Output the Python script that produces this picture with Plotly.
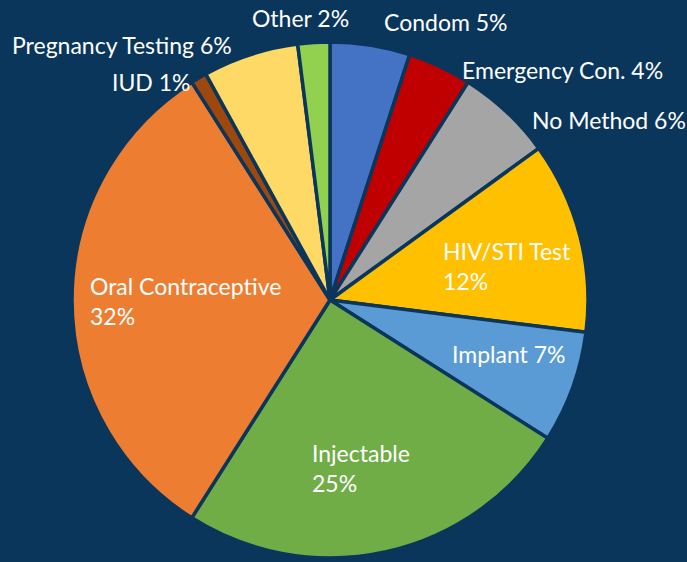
import plotly.graph_objects as go

labels = ["Condom", "Emergency Con.", "No Method", "HIV/STI Test", "Implant",
          "Injectable", "Oral Contraceptive", "IUD", "Pregnancy Testing", "Other"]
values = [5, 4, 6, 12, 7, 25, 32, 1, 6, 2]
colors = ["#4472C4", "#C00000", "#A5A5A5", "#FFC000", "#5B9BD5",
          "#70AD47", "#ED7D31", "#9E480E", "#FFD966", "#92D050"]
two_line = {"HIV/STI Test", "Injectable", "Oral Contraceptive"}

BG = "#0A365C"
W, H = 687, 562
cx, cy, r = 330, 300, 258

# where each label sits (left edge, vertical middle), in pixels
label_pos = {
    "Condom": (382, 22),
    "Emergency Con.": (460, 70),
    "No Method": (530, 120),
    "HIV/STI Test": (441, 266),
    "Implant": (450, 354),
    "Injectable": (310, 468),
    "Oral Contraceptive": (88, 301),
    "IUD": (110, 82),
    "Pregnancy Testing": (10, 45),
    "Other": (250, 18),
}

fig = go.Figure(go.Pie(
    labels=labels,
    values=values,
    sort=False,
    direction="clockwise",
    rotation=0,
    marker=dict(colors=colors, line=dict(color=BG, width=3.5)),
    textinfo="none",
    hoverinfo="label+percent",
    showlegend=False,
    domain=dict(x=[(cx - r) / W, (cx + r) / W],
                y=[(H - cy - r) / H, (H - cy + r) / H]),
))

for lab, v in zip(labels, values):
    sep = "<br>" if lab in two_line else " "
    px_, py_ = label_pos[lab]
    fig.add_annotation(
        text=f"{lab}{sep}{v}%",
        x=px_ / W, y=1 - py_ / H,
        xref="paper", yref="paper",
        xanchor="left", yanchor="middle",
        align="left", showarrow=False,
        font=dict(family="Lato", size=23, color="white"),
    )

fig.update_layout(
    width=W, height=H,
    margin=dict(l=0, r=0, t=0, b=0),
    paper_bgcolor=BG,
    plot_bgcolor=BG,
)

fig.write_html(
    "out.html",
    config={"displayModeBar": False},
    post_script="document.body.style.margin='0';document.body.style.background='%s';" % BG,
)
